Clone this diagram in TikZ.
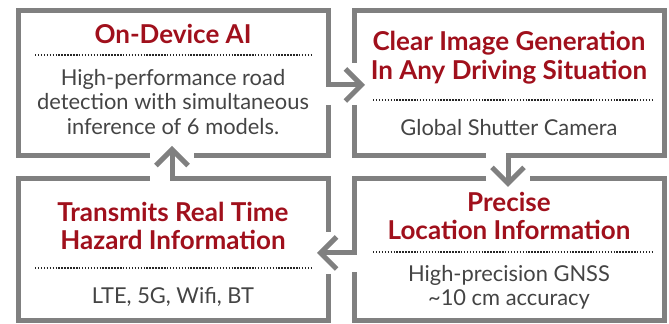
\documentclass[tikz,border=0pt]{standalone}
\usepackage{fontspec}
\setmainfont{Lato}
\usetikzlibrary{arrows.meta,positioning}
\definecolor{framegray}{HTML}{808080}
\definecolor{titlered}{HTML}{A0101C}
\definecolor{textgray}{HTML}{444444}

\begin{document}
\begin{tikzpicture}[x=0.75pt, y=-0.75pt, >={Straight Barb[length=12pt,width=24pt]}]
    \tikzset{panel/.style={rectangle, inner sep=0pt, outer sep=0pt, minimum width=232.5pt},
             frame/.style={draw=framegray, line width=3.75pt},
             title/.style={text=titlered, font=\bfseries\fontsize{19.5}{21.4}\selectfont, align=center},
             body/.style={text=textgray, font=\fontsize{16.4}{18.4}\selectfont, align=center},
             rule/.style={draw=black!85, line width=1.1pt, dash pattern=on 1.1pt off 1.1pt}}
    \useasboundingbox (0,0) rectangle (669,324);
    \node[panel, minimum height=108.75pt] (ai)   at (173,83.5) {};
    \node[panel, minimum height=108.75pt] (gsc)  at (509,83.5) {};
    \node[panel, minimum height=106.5pt]  (haz)  at (173,250) {};
    \node[panel, minimum height=106.5pt]  (gnss) at (509,250) {};
    \coordinate (gsc-in)  at (365,85);
    \coordinate (gnss-in) at (508,187);
    \coordinate (haz-in)  at (317,253);
    \coordinate (ai-in)   at (172,146);
    \draw[frame] (328,105) -- (ai.south east) -- (194,156);
    \draw[frame] (150,156) -- (ai.south west) -- (ai.north west) -- (ai.north east);
    \draw[frame] (354,105) -- (gsc.south west) -- (486,156);
    \draw[frame] (354,63) -- (gsc.north west) -- (gsc.north east) -- (gsc.east);
    \draw[frame] (530,179) -- (gnss.north east) -- (gnss.south east) -- (gnss.south west) -- (354,272);
    \draw[frame] (328,274) -- (haz.south east) -- (haz.south west) -- (haz.north west) -- (150,179);
    \draw[frame, ->] (ai.north) -- (ai.north east) |- (gsc-in);
    \draw[frame, ->] (gsc.east) -- (gsc.south east) -| (gnss-in);
    \draw[frame, ->] (486,179) -- (gnss.north west) |- (haz-in);
    \draw[frame, ->] (328,232) -- (haz.north east) -| (ai-in);
    \node[title] (ai-title) at (173,34) {On-Device AI};
    \draw[rule] (35,55) -- (313,55);
    \node[body] (ai-text) at (173,102) {High-performance road\\detection with simultaneous\\inference of 6 models.};
    \node[title] (gsc-title) at (509,57.5) {Clear Image Generation\\In Any Driving Situation};
    \draw[rule] (373,100) -- (652,100);
    \node[body] (gsc-text) at (509,128) {Global Shutter Camera};
    \node[title] (haz-title) at (173,226) {Transmits Real Time\\Hazard Information};
    \draw[rule] (35,268) -- (313,268);
    \node[body] (haz-text) at (173,297) {LTE, 5G, Wifi, BT};
    \node[title] (gnss-title) at (509,216) {Precise\\Location Information};
    \draw[rule] (373,252) -- (652,252);
    \node[body] (gnss-text) at (509,287.5) {High-precision GNSS\\\textasciitilde 10 cm accuracy};
\end{tikzpicture}
\end{document}
